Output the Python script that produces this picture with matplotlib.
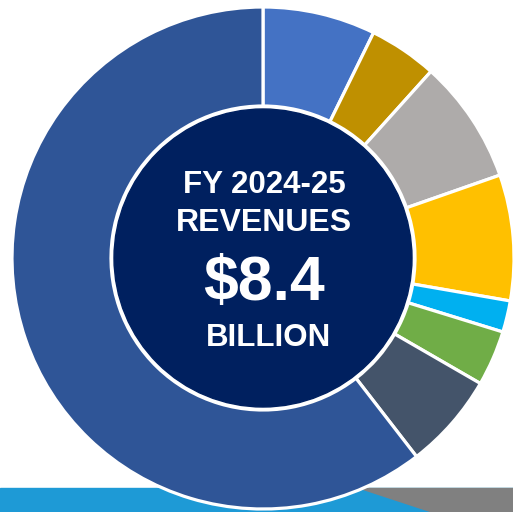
"""FY 2024-25 revenues donut, redrawn in matplotlib."""
import matplotlib

matplotlib.use("Agg")
import matplotlib.pyplot as plt
from matplotlib.patches import Circle, Polygon, Rectangle

# revenue sources, billions (clockwise from 12 o'clock)
sources = ["Source A", "Source B", "Source C", "Source D",
           "Source E", "Source F", "Source G", "Source H"]
revenues = [0.61, 0.37, 0.67, 0.68, 0.17, 0.30, 0.52, 5.08]
colors = ["#4472C4", "#BF9000", "#AEABAA", "#FFC000",
          "#00B0F0", "#70AD47", "#44546A", "#2F5597"]

title_lines = ["FY 2024-25", "REVENUES"]
total_label = "$8.4"
unit_label = "BILLION"

W, H = 513, 512
cx, cy = 263, 254
r_out, r_in = 251, 152

fig = plt.figure(figsize=(W / 100, H / 100), dpi=100)
ax = fig.add_axes([0, 0, 1, 1])

# footer strip behind the donut
ax.add_patch(Rectangle((0, 0), W, 24, color="#1E9AD6", zorder=0))
ax.add_patch(Polygon([(360, 24), (W, 24), (W, 0), (433, 0)], closed=True,
                     color="#808080", zorder=0))

ax.pie(revenues, colors=colors, startangle=90, counterclock=False,
       center=(cx, cy), radius=r_out, frame=True,
       wedgeprops={"width": r_out - r_in, "edgecolor": "white", "linewidth": 2.3})
ax.set_xlim(0, W)
ax.set_ylim(0, H)
ax.set_aspect("equal")
ax.axis("off")

ax.add_patch(Circle((cx, cy), 149, color="#00205F", zorder=3))

font = "Liberation Sans"
ax.text(cx + 1, H - 193, title_lines[0], ha="center", va="baseline", color="white",
        fontsize=22.5, fontweight="bold", family=font, zorder=4)
ax.text(cx + 1, H - 231, title_lines[1], ha="center", va="baseline", color="white",
        fontsize=23, fontweight="bold", family=font, zorder=4)
ax.text(cx + 1, H - 300, total_label, ha="center", va="baseline", color="white",
        fontsize=45, fontweight="bold", family=font, zorder=4)
ax.text(cx + 5, H - 346, unit_label, ha="center", va="baseline", color="white",
        fontsize=22.5, fontweight="bold", family=font, zorder=4)

fig.savefig("out.png", dpi=100)
plt.close(fig)
